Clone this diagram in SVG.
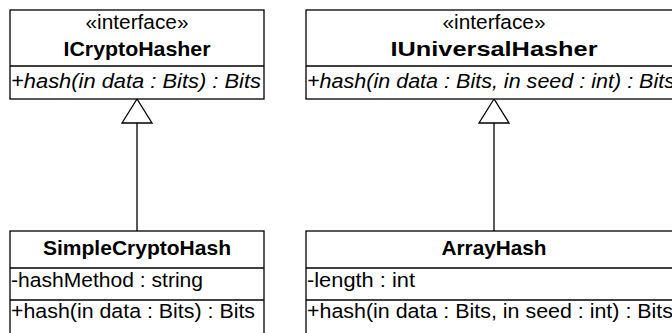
<svg xmlns="http://www.w3.org/2000/svg" width="672" height="333" viewBox="0 0 672 333">
<style>
.box{fill:#fff;stroke:#000;stroke-width:1.3}
.ln{stroke:#000;stroke-width:1.3;fill:none}
.t{font-family:"Liberation Sans",Arial,sans-serif;font-size:20.5px;fill:#000}
.c{text-anchor:middle}
.b{font-weight:bold}
.i{font-style:italic}
.tri{fill:#fff;stroke:#000;stroke-width:1.3}
</style>
<g id="connectors">
<line class="ln" x1="137" y1="123" x2="137" y2="231"/>
<polygon class="tri" points="137,99 122,123 152,123"/>
<line class="ln" x1="494" y1="123" x2="494" y2="231"/>
<polygon class="tri" points="494,99 479,123 509,123"/>
</g>
<g id="ICryptoHasher">
<rect class="box" x="10" y="10" width="254" height="89"/>
<line class="ln" x1="10" y1="66" x2="264" y2="66"/>
<text class="t c" x="137" y="29" textLength="103" lengthAdjust="spacingAndGlyphs">«interface»</text>
<text class="t c b" x="137" y="56" textLength="147" lengthAdjust="spacingAndGlyphs">ICryptoHasher</text>
<text class="t i" x="11" y="88" textLength="250" lengthAdjust="spacingAndGlyphs">+hash(in data : Bits) : Bits</text>
</g>
<g id="IUniversalHasher">
<rect class="box" x="306" y="10" width="376" height="89"/>
<line class="ln" x1="306" y1="66" x2="682" y2="66"/>
<text class="t c" x="494" y="29" textLength="103" lengthAdjust="spacingAndGlyphs">«interface»</text>
<text class="t c b" x="494" y="56" textLength="207" lengthAdjust="spacingAndGlyphs">IUniversalHasher</text>
<text class="t i" x="307" y="88" textLength="368" lengthAdjust="spacingAndGlyphs">+hash(in data : Bits, in seed : int) : Bits</text>
</g>
<g id="SimpleCryptoHash">
<rect class="box" x="10" y="231" width="254" height="120"/>
<line class="ln" x1="10" y1="268" x2="264" y2="268"/>
<line class="ln" x1="10" y1="300" x2="264" y2="300"/>
<text class="t c b" x="137" y="255" textLength="188" lengthAdjust="spacingAndGlyphs">SimpleCryptoHash</text>
<text class="t" x="11" y="287" textLength="192" lengthAdjust="spacingAndGlyphs">-hashMethod : string</text>
<text class="t" x="11" y="318" textLength="244" lengthAdjust="spacingAndGlyphs">+hash(in data : Bits) : Bits</text>
</g>
<g id="ArrayHash">
<rect class="box" x="306" y="231" width="376" height="120"/>
<line class="ln" x1="306" y1="268" x2="682" y2="268"/>
<line class="ln" x1="306" y1="300" x2="682" y2="300"/>
<text class="t c b" x="494" y="255" textLength="105" lengthAdjust="spacingAndGlyphs">ArrayHash</text>
<text class="t" x="307" y="287" textLength="108" lengthAdjust="spacingAndGlyphs">-length : int</text>
<text class="t" x="307" y="318" textLength="366" lengthAdjust="spacingAndGlyphs">+hash(in data : Bits, in seed : int) : Bits</text>
</g>
</svg>
